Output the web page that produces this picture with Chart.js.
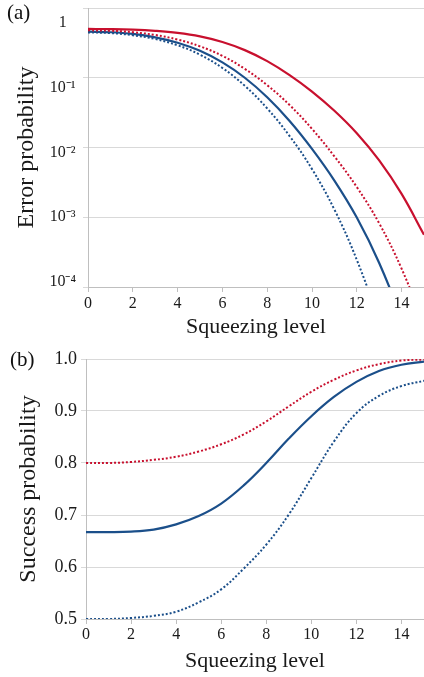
<!DOCTYPE html>
<html>
<head>
<meta charset="utf-8">
<script src="https://cdn.jsdelivr.net/npm/chart.js@4.4.1/dist/chart.umd.min.js"></script>
<style>
    body { margin: 0; background: #fff; }
    #wrap { position: relative; width: 424px; height: 677px; }
    canvas { position: absolute; left: 0; }
    #errorChart { top: 0; }
    #successChart { top: 340px; }
    .panel-tag { position: absolute; font: 21px "Liberation Serif", "Times New Roman", serif; color: #111; }
</style>
</head>
<body>
<div id="wrap">
    <canvas id="errorChart" width="424" height="340"></canvas>
    <canvas id="successChart" width="424" height="337"></canvas>
    <div class="panel-tag" style="left:7px; top:0px">(a)</div>
    <div class="panel-tag" style="left:10px; top:347px">(b)</div>
</div>
<script>
// ── Data ─────────────────────────────────────────────────
const squeezing = [0, 1, 2, 3, 4, 5, 6, 7, 8, 9, 10, 11, 12, 13, 14, 15];
const xTicks = [0, 2, 4, 6, 8, 10, 12, 14];

const errTicks = [1, 1e-1, 1e-2, 1e-3, 1e-4];
const errTickLabels = ["1", "10⁻¹", "10⁻²", "10⁻³", "10⁻⁴"];

const errRedSolid = [0.501, 0.498, 0.489, 0.470, 0.439, 0.391, 0.325, 0.249, 0.173, 0.109, 0.0633, 0.0336, 0.0160, 0.00652, 0.00216, 0.000561];
const errRedDotted = [0.479, 0.472, 0.450, 0.410, 0.353, 0.282, 0.206, 0.134, 0.0782, 0.0406, 0.0185, 0.00746, 0.00271, 0.000818, 0.000183, 0.0000290];
const errBlueSolid = [0.457, 0.449, 0.425, 0.380, 0.318, 0.243, 0.166, 0.100, 0.0525, 0.0240, 0.00955, 0.00335, 0.000989, 0.000221, 0.0000343, 0.00000343];
const errBlueDotted = [0.447, 0.437, 0.407, 0.359, 0.292, 0.214, 0.138, 0.0767, 0.0363, 0.0146, 0.00490, 0.00129, 0.000245, 0.0000309, 0.00000245, 0.000000123];

const successTicks = [0.5, 0.6, 0.7, 0.8, 0.9, 1.0];
const successRedDotted = [0.800, 0.800, 0.802, 0.806, 0.812, 0.822, 0.836, 0.855, 0.880, 0.909, 0.937, 0.960, 0.978, 0.990, 0.997, 0.999];
const successBlueSolid = [0.667, 0.667, 0.668, 0.672, 0.682, 0.698, 0.722, 0.757, 0.800, 0.847, 0.890, 0.927, 0.956, 0.977, 0.989, 0.995];
const successBlueDotted = [0.500, 0.500, 0.502, 0.506, 0.514, 0.532, 0.557, 0.597, 0.643, 0.701, 0.771, 0.841, 0.896, 0.929, 0.948, 0.958];

// ── Styling ──────────────────────────────────────────────
const SERIF = "'Liberation Serif', 'Times New Roman', serif";
const RED = "#C8102E";
const BLUE = "#1B4F8A";
const GRID = "#d9d9d9";
const AXIS = "#bfbfbf";
const TEXT = "#1a1a1a";

function lineDataset(values, color, dotted) {
    return {
        data: squeezing.map((x, i) => ({ x, y: values[i] })),
        borderColor: color,
        borderWidth: dotted ? 2 : 2.2,
        borderDash: dotted ? [2, 2] : [],
        pointRadius: 0,
        tension: 0.4,
        fill: false
    };
}

function squeezingAxis(height, tickPad, titlePad) {
    return {
        type: "linear",
        min: 0,
        max: 15,
        afterBuildTicks: (axis) => { axis.ticks = xTicks.map((v) => ({ value: v })); },
        afterFit: (axis) => {
            axis.height = height;
            axis.paddingLeft = 0;
            axis.paddingRight = 0;
        },
        grid: { drawOnChartArea: false, drawTicks: true, tickLength: 5, color: AXIS },
        border: { color: AXIS },
        ticks: { font: { family: SERIF, size: 16 }, color: TEXT, padding: tickPad, maxRotation: 0, autoSkip: false },
        title: {
            display: true,
            text: "Squeezing level",
            font: { family: SERIF, size: 22 },
            color: TEXT,
            padding: { top: 0, bottom: titlePad }
        }
    };
}

const common = {
    responsive: false,
    animation: false,
    elements: { line: { capBezierPoints: false } },
    plugins: { legend: { display: false }, tooltip: { enabled: false } }
};

// ── (a) Error probability ────────────────────────────────
new Chart(document.getElementById("errorChart"), {
    type: "line",
    data: {
        datasets: [
            lineDataset(errRedSolid, RED, false),
            lineDataset(errRedDotted, RED, true),
            lineDataset(errBlueSolid, BLUE, false),
            lineDataset(errBlueDotted, BLUE, true)
        ]
    },
    options: {
        ...common,
        layout: { padding: { top: 8, left: 0, right: 0, bottom: 0 } },
        scales: {
            x: squeezingAxis(53, 2, 0),
            y: {
                type: "logarithmic",
                position: "left",
                weight: 0,
                min: 1e-4,
                max: 1,
                afterBuildTicks: (axis) => { axis.ticks = errTicks.map((v) => ({ value: v })); },
                afterFit: (axis) => {
                    axis.width = 5;
                    axis.paddingTop = 0;
                    axis.paddingBottom = 0;
                },
                grid: { color: GRID, drawTicks: true, tickLength: 5 },
                border: { color: AXIS },
                ticks: { display: false }
            },
            // label axis: the figure's exponent labels sit on their own spacing
            yLab: {
                type: "linear",
                axis: "y",
                position: "left",
                weight: 1,
                reverse: true,
                min: -0.232,
                max: 4.077,
                afterBuildTicks: (axis) => { axis.ticks = errTickLabels.map((_, i) => ({ value: i })); },
                afterFit: (axis) => {
                    axis.width = 83;
                    axis.paddingTop = 0;
                    axis.paddingBottom = 0;
                },
                grid: { display: false, drawTicks: false },
                border: { display: false },
                ticks: {
                    font: { family: SERIF, size: 16 },
                    color: TEXT,
                    crossAlign: "center",
                    padding: 7,
                    callback: (v) => errTickLabels[v]
                },
                title: {
                    display: true,
                    text: "Error probability",
                    font: { family: SERIF, size: 24 },
                    color: TEXT,
                    padding: { top: 12, bottom: 0 }
                }
            }
        }
    }
});

// ── (b) Success probability ──────────────────────────────
new Chart(document.getElementById("successChart"), {
    type: "line",
    data: {
        datasets: [
            lineDataset(successRedDotted, RED, true),
            lineDataset(successBlueSolid, BLUE, false),
            lineDataset(successBlueDotted, BLUE, true)
        ]
    },
    options: {
        ...common,
        layout: { padding: { top: 19, left: 0, right: 0, bottom: 0 } },
        scales: {
            x: squeezingAxis(58, 1, 3),
            y: {
                type: "linear",
                position: "left",
                min: 0.5,
                max: 1.0,
                afterBuildTicks: (axis) => { axis.ticks = successTicks.map((v) => ({ value: v })); },
                afterFit: (axis) => {
                    axis.width = 86;
                    axis.paddingTop = 0;
                    axis.paddingBottom = 0;
                },
                grid: { color: GRID, drawTicks: true, tickLength: 5 },
                border: { color: AXIS },
                ticks: {
                    font: { family: SERIF, size: 18 },
                    color: TEXT,
                    crossAlign: "center",
                    padding: 4,
                    callback: (v) => v.toFixed(1)
                },
                title: {
                    display: true,
                    text: "Success probability",
                    font: { family: SERIF, size: 24 },
                    color: TEXT,
                    padding: { top: 14, bottom: 0 }
                }
            }
        }
    }
});
</script>
</body>
</html>
